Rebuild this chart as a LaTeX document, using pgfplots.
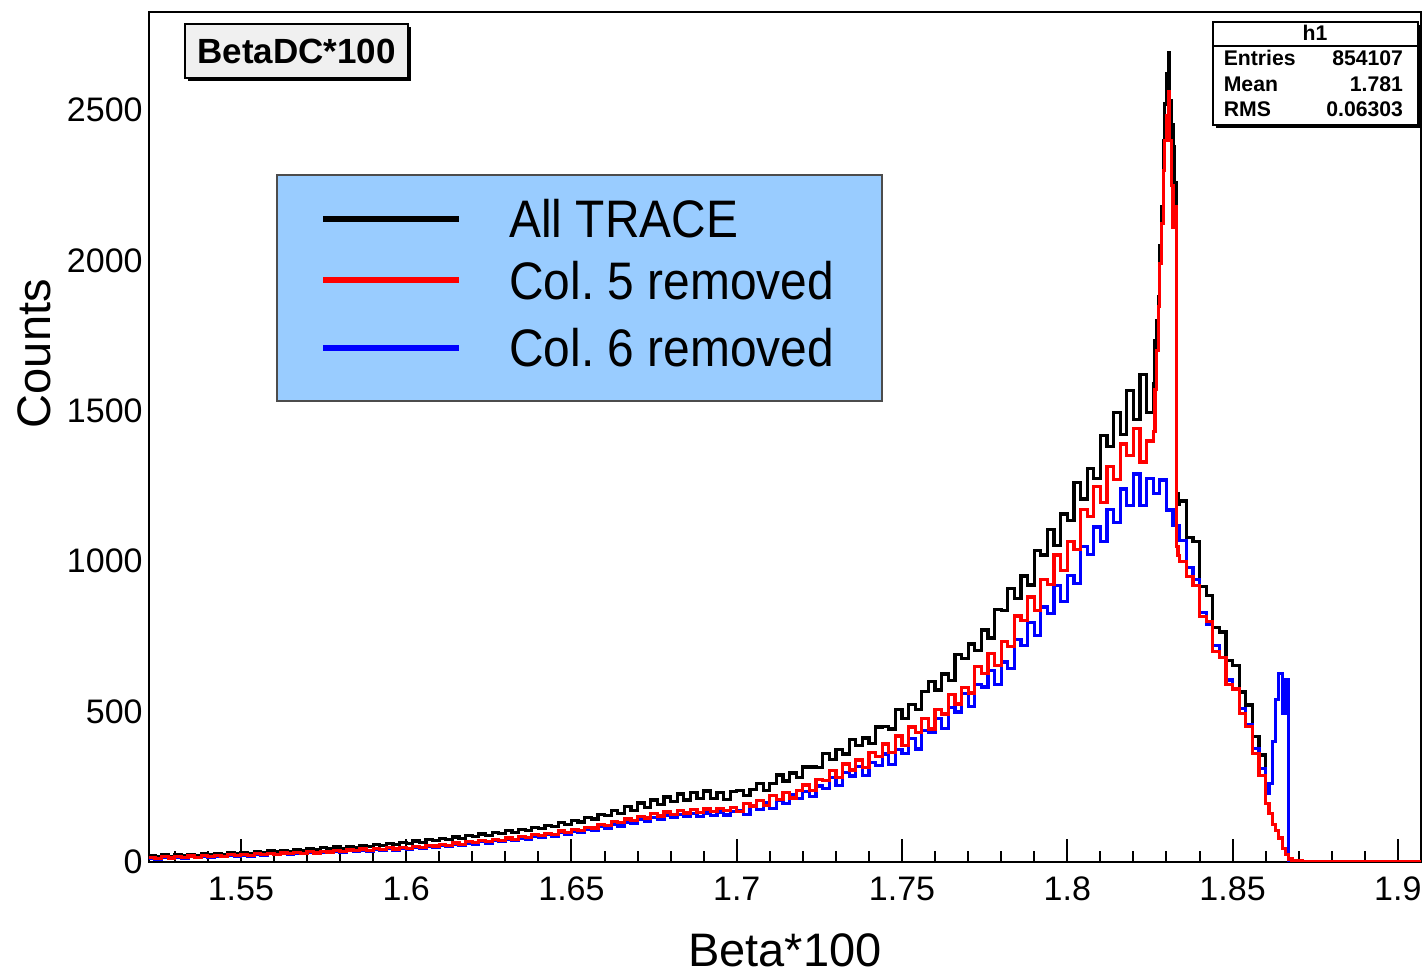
\documentclass[border=0pt]{standalone}
\usepackage{fontspec}
\setmainfont{Liberation Sans}
\newfontfamily\legfont[FakeStretch=0.907]{Liberation Sans}
\usepackage{pgfplots}
\pgfplotsset{compat=1.18}
\definecolor{legblue}{RGB}{153,204,255}
\definecolor{boxgray}{RGB}{240,240,240}
\begin{document}
\begin{tikzpicture}
\useasboundingbox (-74.5bp,-55.5bp) rectangle (637bp,431bp);
\begin{axis}[
  name=ax, at={(0,0)}, anchor=south west,
  scale only axis, width=636bp, height=425bp,
  xmin=1.5222, xmax=1.907, ymin=0, ymax=2826,
  axis line style={line width=1bp},
  tick align=inside, xtick pos=bottom, ytick pos=left,
  xtick={1.55,1.6,...,1.9}, minor xtick={1.53,1.54,...,1.905},
  major tick length=11.7bp, minor tick length=5.5bp,
  tick style={black, line width=1bp},
  ytick={0,500,...,2500}, ytick style={draw=none},
  /pgf/number format/assume math mode=true,
  /pgf/number format/1000 sep={},
  tick label style={font=\fontsize{17bp}{20bp}\selectfont},
  xticklabel style={anchor=base, yshift=-19bp, inner sep=0pt},
  yticklabel style={anchor=east, inner sep=0pt, xshift=-3bp},
  xlabel={Beta*100}, ylabel={Counts},
  label style={font=\fontsize{23.5bp}{28bp}\selectfont},
  xlabel style={at={(axis description cs:0.5,-0.1224)}, anchor=base},
  ylabel style={at={(axis description cs:-0.0778,0.598)}, anchor=base},
  every axis plot/.append style={const plot, line width=1.6bp},
]
% y ticks drawn by hand (longer than the x ticks, as in ROOT)
\pgfplotsinvokeforeach{100,200,...,2800}{\draw[line width=1bp] (axis cs:1.5222,#1) -- ++(9.5bp,0);}
\pgfplotsinvokeforeach{0,500,...,2500}{\draw[line width=1bp] (axis cs:1.5222,#1) -- ++(19bp,0);}

% All TRACE
\addplot[black] coordinates {
(1.522,20)(1.524,17)(1.526,23)(1.528,19)(1.530,24)(1.532,20)(1.534,26)(1.536,22)(1.538,27)(1.540,24)
(1.542,29)(1.544,25)(1.546,31)(1.548,27)(1.550,32)(1.552,29)(1.554,35)(1.556,31)(1.558,37)(1.560,33)
(1.562,39)(1.564,36)(1.566,42)(1.568,38)(1.570,44)(1.572,40)(1.574,47)(1.576,43)(1.578,50)(1.580,46)
(1.582,52)(1.584,49)(1.586,56)(1.588,52)(1.590,58)(1.592,55)(1.594,61)(1.596,59)(1.598,66)(1.600,62)
(1.602,70)(1.604,66)(1.606,74)(1.608,71)(1.610,79)(1.612,74)(1.614,83)(1.616,79)(1.618,88)(1.620,84)
(1.622,93)(1.624,88)(1.626,97)(1.628,94)(1.630,104)(1.632,99)(1.634,109)(1.636,105)(1.638,116)(1.640,111)
(1.642,122)(1.644,117)(1.646,130)(1.648,125)(1.650,138)(1.652,133)(1.654,147)(1.656,143)(1.658,158)(1.660,155)
(1.662,172)(1.664,160)(1.666,184)(1.668,170)(1.670,196)(1.672,182)(1.674,206)(1.676,190)(1.678,216)(1.680,200)
(1.682,226)(1.684,206)(1.686,232)(1.688,210)(1.690,236)(1.692,210)(1.694,232)(1.696,208)(1.698,234)(1.700,238)
(1.702,220)(1.704,242)(1.706,261)(1.708,239)(1.710,260)(1.712,289)(1.714,269)(1.716,296)(1.718,281)(1.720,316)
(1.722,316)(1.724,314)(1.726,360)(1.728,342)(1.730,373)(1.732,359)(1.734,408)(1.736,386)(1.738,412)(1.740,393)
(1.742,449)(1.744,451)(1.746,442)(1.748,507)(1.750,478)(1.752,523)(1.754,506)(1.756,568)(1.758,600)(1.760,572)
(1.762,625)(1.764,603)(1.766,690)(1.768,676)(1.770,725)(1.772,703)(1.774,771)(1.776,745)(1.778,839)(1.780,835)
(1.782,910)(1.784,876)(1.786,951)(1.788,921)(1.790,1035)(1.792,1021)(1.794,1106)(1.796,1051)(1.798,1157)(1.800,1135)
(1.802,1261)(1.804,1207)(1.806,1308)(1.808,1274)(1.810,1418)(1.812,1382)(1.814,1494)(1.816,1421)(1.818,1568)(1.820,1470)
(1.822,1620)(1.824,1495)(1.8260,1590)(1.8265,1735)(1.8270,1800)(1.8275,1880)(1.8280,2050)(1.8285,2180)(1.8290,2400)
(1.8295,2520)(1.8300,2620)(1.8305,2690)(1.8310,2530)(1.8315,2450)(1.8320,2378)(1.8325,2260)(1.8330,1226)(1.8335,1190)
(1.834,1200)(1.836,1080)(1.838,1065)(1.840,915)(1.842,885)(1.844,780)(1.846,765)(1.848,670)(1.850,652)(1.852,565)
(1.854,522)(1.856,418)(1.858,356)(1.860,262)(1.861,260)(1.862,400)(1.863,540)(1.864,627)(1.865,494)(1.866,605)
(1.867,0)(1.907,0)};

% Col. 6 removed
\addplot[blue] coordinates {
(1.522,12)(1.524,10)(1.526,15)(1.528,11)(1.530,16)(1.532,13)(1.534,18)(1.536,14)(1.538,19)(1.540,16)
(1.542,20)(1.544,17)(1.546,22)(1.548,19)(1.550,23)(1.552,20)(1.554,25)(1.556,22)(1.558,27)(1.560,24)
(1.562,28)(1.564,25)(1.566,30)(1.568,27)(1.570,31)(1.572,28)(1.574,33)(1.576,31)(1.578,36)(1.580,33)
(1.582,37)(1.584,35)(1.586,40)(1.588,36)(1.590,41)(1.592,38)(1.594,44)(1.596,40)(1.598,46)(1.600,43)
(1.602,49)(1.604,46)(1.606,52)(1.608,49)(1.610,55)(1.612,51)(1.614,59)(1.616,55)(1.618,63)(1.620,60)
(1.622,67)(1.624,63)(1.626,71)(1.628,67)(1.630,75)(1.632,71)(1.634,80)(1.636,76)(1.638,86)(1.640,82)
(1.642,91)(1.644,86)(1.646,97)(1.648,92)(1.650,102)(1.652,98)(1.654,109)(1.656,105)(1.658,117)(1.660,112)
(1.662,125)(1.664,120)(1.666,133)(1.668,128)(1.670,141)(1.672,135)(1.674,148)(1.676,142)(1.678,155)(1.680,147)
(1.682,158)(1.684,151)(1.686,162)(1.688,152)(1.690,163)(1.692,155)(1.694,166)(1.696,156)(1.698,168)(1.700,170)
(1.702,158)(1.704,186)(1.706,175)(1.708,196)(1.710,179)(1.712,206)(1.714,194)(1.716,224)(1.718,210)(1.720,234)
(1.722,217)(1.724,253)(1.726,245)(1.728,280)(1.730,254)(1.732,297)(1.734,286)(1.736,318)(1.738,287)(1.740,330)
(1.742,320)(1.744,359)(1.746,325)(1.748,374)(1.750,360)(1.752,411)(1.754,376)(1.756,437)(1.758,432)(1.760,477)
(1.762,444)(1.764,514)(1.766,499)(1.768,561)(1.770,518)(1.772,589)(1.774,582)(1.776,638)(1.778,591)(1.780,665)
(1.782,644)(1.784,740)(1.786,721)(1.788,797)(1.790,752)(1.792,848)(1.794,827)(1.796,919)(1.798,866)(1.800,952)
(1.802,926)(1.804,1050)(1.806,1022)(1.808,1114)(1.810,1065)(1.812,1172)(1.814,1128)(1.816,1240)(1.818,1186)(1.820,1290)
(1.822,1185)(1.824,1275)(1.826,1225)(1.828,1270)(1.830,1170)(1.832,1120)(1.834,1070)(1.836,980)(1.838,940)(1.840,830)
(1.842,790)(1.844,720)(1.846,680)(1.848,605)(1.850,575)(1.852,510)(1.854,458)(1.856,378)(1.858,312)(1.860,229)
(1.861,260)(1.862,400)(1.863,540)(1.864,627)(1.865,494)(1.866,605)(1.867,0)(1.907,0)};

% Col. 5 removed
\addplot[red] coordinates {
(1.522,14)(1.524,12)(1.526,17)(1.528,13)(1.530,18)(1.532,15)(1.534,20)(1.536,16)(1.538,21)(1.540,18)
(1.542,22)(1.544,19)(1.546,24)(1.548,21)(1.550,25)(1.552,22)(1.554,27)(1.556,24)(1.558,29)(1.560,26)
(1.562,30)(1.564,27)(1.566,32)(1.568,29)(1.570,34)(1.572,30)(1.574,35)(1.576,33)(1.578,38)(1.580,35)
(1.582,40)(1.584,37)(1.586,43)(1.588,39)(1.590,44)(1.592,41)(1.594,47)(1.596,43)(1.598,49)(1.600,46)
(1.602,52)(1.604,49)(1.606,56)(1.608,53)(1.610,59)(1.612,55)(1.614,63)(1.616,59)(1.618,67)(1.620,64)
(1.622,71)(1.624,67)(1.626,76)(1.628,72)(1.630,80)(1.632,76)(1.634,85)(1.636,81)(1.638,91)(1.640,87)
(1.642,96)(1.644,92)(1.646,103)(1.648,98)(1.650,108)(1.652,104)(1.654,116)(1.656,113)(1.658,125)(1.660,121)
(1.662,134)(1.664,130)(1.666,143)(1.668,138)(1.670,152)(1.672,146)(1.674,160)(1.676,153)(1.678,166)(1.680,158)
(1.682,170)(1.684,163)(1.686,175)(1.688,165)(1.690,176)(1.692,168)(1.694,179)(1.696,170)(1.698,182)(1.700,168)
(1.702,194)(1.704,186)(1.706,205)(1.708,189)(1.710,221)(1.712,208)(1.714,232)(1.716,213)(1.718,238)(1.720,256)
(1.722,239)(1.724,275)(1.726,270)(1.728,303)(1.730,280)(1.732,326)(1.734,306)(1.736,339)(1.738,315)(1.740,363)
(1.742,352)(1.744,392)(1.746,365)(1.748,419)(1.750,388)(1.752,449)(1.754,431)(1.756,478)(1.758,442)(1.760,507)
(1.762,492)(1.764,558)(1.766,525)(1.768,581)(1.770,562)(1.772,650)(1.774,628)(1.776,694)(1.778,654)(1.780,732)
(1.782,717)(1.784,818)(1.786,802)(1.788,881)(1.790,836)(1.792,940)(1.794,923)(1.796,1021)(1.798,970)(1.800,1065)
(1.802,1039)(1.804,1172)(1.806,1148)(1.808,1248)(1.810,1195)(1.812,1314)(1.814,1273)(1.816,1390)(1.818,1351)(1.820,1440)
(1.822,1330)(1.824,1400)(1.8260,1430)(1.8265,1570)(1.8270,1700)(1.8275,1846)(1.8280,1990)(1.8285,2124)(1.8290,2300)
(1.8295,2400)(1.8300,2480)(1.8305,2560)(1.8310,2400)(1.8315,2250)(1.8320,2110)(1.8325,2180)(1.8330,1048)(1.8335,1020)
(1.834,1000)(1.836,950)(1.838,920)(1.840,815)(1.842,800)(1.844,700)(1.846,680)(1.848,590)(1.850,575)(1.852,495)
(1.854,450)(1.856,360)(1.858,288)(1.860,195)(1.861,160)(1.862,125)(1.863,105)(1.864,80)(1.865,45)(1.866,25)
(1.867,10)(1.868,4)(1.869,0)(1.870,3)(1.871,0)(1.907,0)};
\end{axis}

% title box
\begin{scope}[shift={(ax.north west)}]
  \fill[black] (19.5bp,-7.5bp) rectangle (131bp,-34.5bp);
  \filldraw[fill=boxgray, draw=black, line width=0.6bp] (18bp,-6bp) rectangle (129.5bp,-33bp);
  \node[font=\bfseries\fontsize{17.5bp}{20bp}\selectfont, inner sep=0pt] at (73.75bp,-19.5bp) {BetaDC*100};
  % legend
  \filldraw[fill=legblue, draw=black!70, line width=0.6bp] (64bp,-81.5bp) rectangle (366.5bp,-194.5bp);
  \draw[black, line width=3bp] (87bp,-103.5bp) -- (155bp,-103.5bp);
  \draw[red, line width=3bp] (87bp,-134bp) -- (155bp,-134bp);
  \draw[blue, line width=3bp] (87bp,-168bp) -- (155bp,-168bp);
  \begin{scope}[every node/.style={anchor=base west, inner sep=0pt, font=\legfont\fontsize{26.4bp}{30bp}\selectfont}]
    \node at (180bp,-113bp) {All TRACE};
    \node at (180bp,-144bp) {Col.\ 5 removed};
    \node at (180bp,-177.5bp) {Col.\ 6 removed};
  \end{scope}
\end{scope}

% stats box
\begin{scope}[shift={(ax.north east)}, every node/.style={inner sep=0pt, font=\bfseries\fontsize{10.6bp}{12bp}\selectfont}]
  \fill[black] (-102.5bp,-6.5bp) rectangle (-0.3bp,-57.8bp);
  \filldraw[fill=white, draw=black, line width=0.6bp] (-104bp,-5bp) rectangle (-1.5bp,-56.5bp);
  \draw[line width=0.6bp] (-104bp,-17bp) -- (-1.5bp,-17bp);
  \node[anchor=base] at (-53bp,-14.5bp) {h1};
  \node[anchor=base west] at (-98.8bp,-27bp) {Entries};
  \node[anchor=base east] at (-8.8bp,-27bp) {854107};
  \node[anchor=base west] at (-98.8bp,-40bp) {Mean};
  \node[anchor=base east] at (-8.8bp,-40bp) {1.781};
  \node[anchor=base west] at (-98.8bp,-52.5bp) {RMS};
  \node[anchor=base east] at (-8.8bp,-52.5bp) {0.06303};
\end{scope}
\end{tikzpicture}
\end{document}
